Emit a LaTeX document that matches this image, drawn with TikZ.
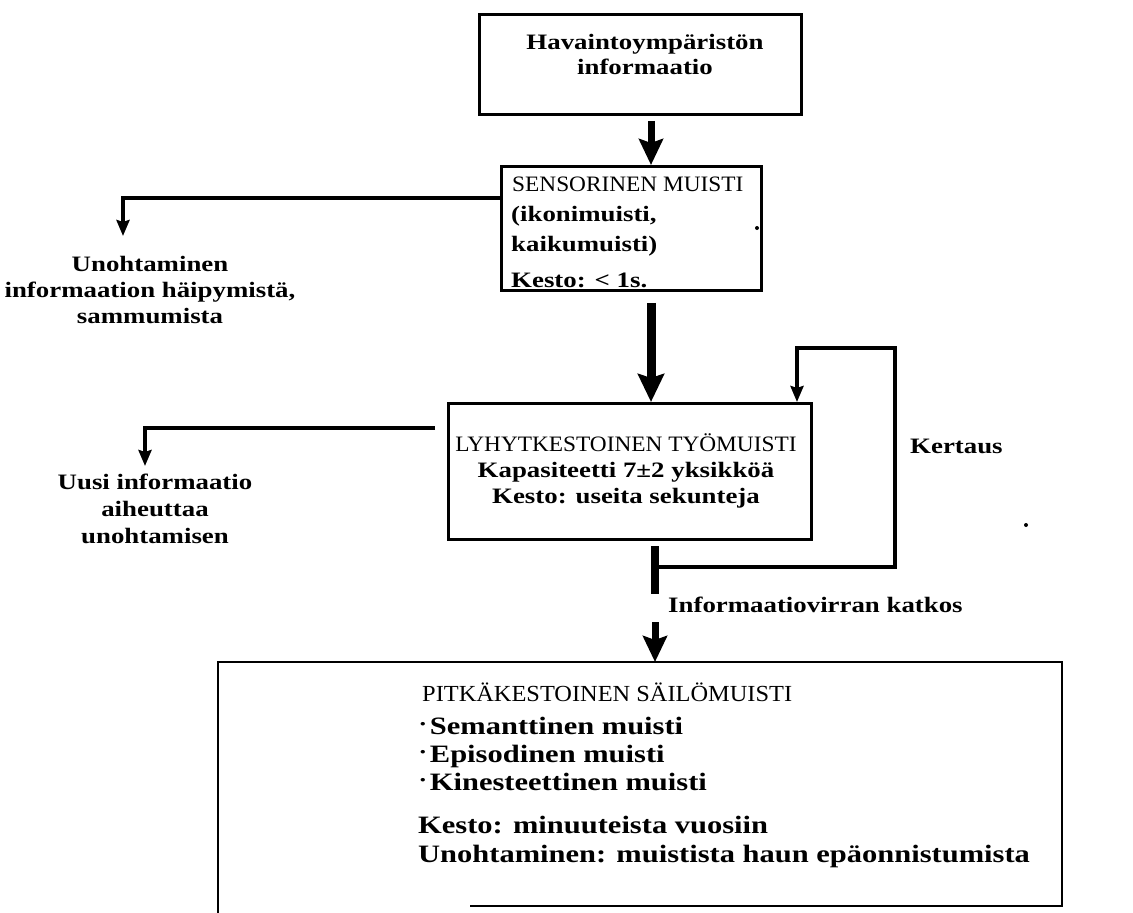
\documentclass[tikz,border=0pt]{standalone}
\usepackage{fontspec}
\usetikzlibrary{arrows.meta}
\setmainfont{Liberation Serif}
\newfontfamily\bodyfont{Liberation Serif}[FakeStretch=1.22]
\newfontfamily\capsfont{Liberation Serif}[FakeStretch=1.06]
\newcommand\listdot{\raisebox{6bp}{\fontsize{13bp}{13bp}\selectfont\textbullet}\,}
\begin{document}
\begin{tikzpicture}[x=1bp,y=-1bp,
  frame/.style={draw, line width=2.8bp, inner sep=0pt, anchor=north west},
  body/.style={font=\bodyfont\bfseries\fontsize{22bp}{24bp}\selectfont, inner sep=0pt},
  bigbody/.style={font=\bodyfont\bfseries\fontsize{25bp}{28bp}\selectfont, inner sep=0pt},
  caps/.style={font=\capsfont\fontsize{22bp}{24bp}\selectfont, inner sep=0pt},
  bigcaps/.style={font=\capsfont\fontsize{23bp}{26bp}\selectfont, inner sep=0pt},
  bigarrow/.style={line width=7bp, -{Stealth[length=26bp, width=24bp, inset=4bp]}},
  fatarrow/.style={line width=9bp, -{Stealth[length=28bp, width=26bp, inset=4bp]}},
  sidearrow/.style={line width=4bp, -{Stealth[length=16bp, width=13bp, inset=2bp]}},
  loopline/.style={line width=4.5bp},
  speck/.style={fill, circle, inner sep=0pt, minimum size=4bp}]
\useasboundingbox (0,0) rectangle (1133,913);

% boxes
\node[frame, minimum width=322bp, minimum height=100bp] (env) at (478,13) {};
\node[frame, minimum width=260bp, minimum height=124bp] (sens) at (500,165) {};
\node[frame, minimum width=363bp, minimum height=136bp] (work) at (447,402) {};

% texts inside boxes
\node[body, anchor=base] (env1) at (645,49) {Havaintoympäristön};
\node[body, anchor=base] (env2) at (645,74) {informaatio};
\node[caps, anchor=base west] (senst) at (512,191) {SENSORINEN MUISTI};
\node[body, anchor=base west] (sens2) at (511,221) {(ikonimuisti,};
\node[body, anchor=base west] (sens3) at (511,251) {kaikumuisti)};
\node[body, anchor=base west] (sens4) at (511,287) {Kesto: < 1s.};
\node[caps, anchor=base] (workt) at (626,451) {LYHYTKESTOINEN TYÖMUISTI};
\node[body, anchor=base] (work2) at (626,477) {Kapasiteetti 7±2 yksikköä};
\node[body, anchor=base] (work3) at (626,503) {Kesto: useita sekunteja};

% side labels
\node[body, anchor=base] (f1a) at (150,271) {Unohtaminen};
\node[body, anchor=base] (f1b) at (150,297) {informaation häipymistä,};
\node[body, anchor=base] (f1c) at (150,323) {sammumista};
\node[body, anchor=base] (f2a) at (155,489) {Uusi informaatio};
\node[body, anchor=base] (f2b) at (155,516) {aiheuttaa};
\node[body, anchor=base] (f2c) at (155,543) {unohtamisen};
\node[body, anchor=base west] (kertaus) at (910,453) {Kertaus};
\node[body, anchor=base west] (katkos) at (668,612) {Informaatiovirran katkos};

% long-term memory box (open at the lower left)
\coordinate (ltmSW) at (218,913);
\coordinate (ltmNW) at (218,662);
\coordinate (ltmNE) at (1062,662);
\coordinate (ltmSE) at (1062,906);
\coordinate (ltmS) at (470,906);
\draw[line width=2.8bp] (ltmSW) -- (ltmNW) -- (ltmNE) -- (ltmSE) -- (ltmS);
\node[bigcaps, anchor=base west] (ltmt) at (422,701) {PITKÄKESTOINEN SÄILÖMUISTI};
\node[bigbody, anchor=base west] (ltm1) at (420,734) {\listdot Semanttinen muisti};
\node[bigbody, anchor=base west] (ltm2) at (420,762) {\listdot Episodinen muisti};
\node[bigbody, anchor=base west] (ltm3) at (420,790) {\listdot Kinesteettinen muisti};
\node[bigbody, anchor=base west] (ltm4) at (418,833) {Kesto: minuuteista vuosiin};
\node[bigbody, anchor=base west] (ltm5) at (418,862) {Unohtaminen: muistista haun epäonnistumista};
\coordinate (ltmtop) at (655,662);

% main flow
\coordinate (xa) at (651,0);
\draw[bigarrow] ([yshift=-5bp]xa |- env.south) -- (xa |- sens.north);
\draw[fatarrow] ([yshift=-11bp]xa |- sens.south) -- (xa |- work.north);

% forgetting branches
\coordinate (b1) at (123,198);
\draw[sidearrow] (sens.west |- b1) -| ([yshift=-38bp]b1);
\coordinate (b2) at (145,428);
\draw[sidearrow] ([xshift=-12bp]work.west |- b2) -| ([yshift=-38bp]b2);

% rehearsal loop and interruption bar
\coordinate (bartop) at (655,546);
\coordinate (barbot) at (655,594);
\coordinate (barmid) at (655,567);
\coordinate (loopR) at (895,567);
\coordinate (loopT) at (895,348);
\coordinate (loopL) at (797,348);
\draw[line width=8bp] (bartop) -- (barbot);
\draw[loopline] (barmid) -- (loopR) -- (loopT) -- (loopL);
\draw[sidearrow, line width=4.5bp] ([yshift=2bp]loopL) -- (loopL |- work.north);
\draw[bigarrow] ([yshift=40bp]ltmtop) -- (ltmtop);

% stray marks
\node[speck] (s1) at (757,228) {};
\node[speck] (s2) at (1026,525) {};
\end{tikzpicture}
\end{document}
